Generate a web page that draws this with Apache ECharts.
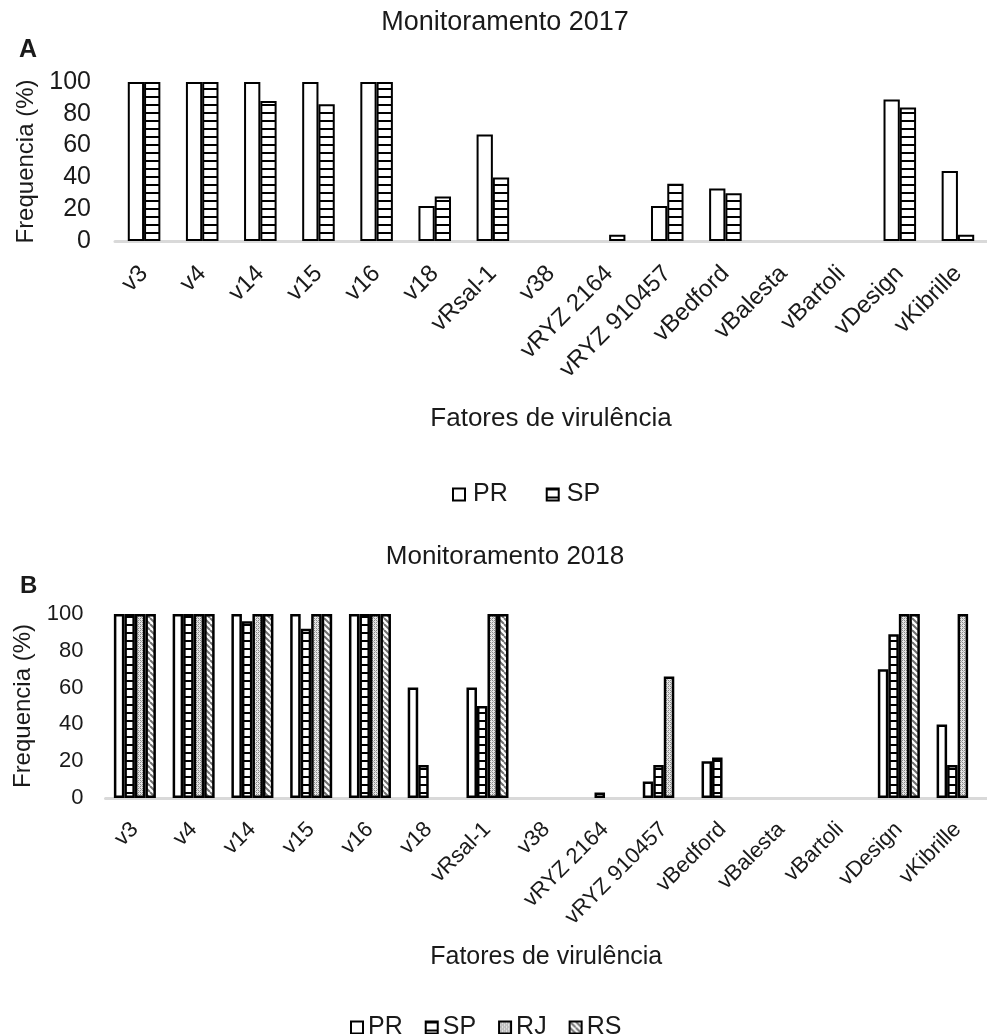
<!DOCTYPE html>
<html>
<head>
<meta charset="utf-8">
<script src="https://cdn.jsdelivr.net/npm/echarts@6/dist/echarts.min.js"></script>
<style>
html,body{margin:0;padding:0;background:#fff;}
#chart{width:987px;height:1034px;}
</style>
</head>
<body>
<div id="chart"></div>
<script>
// ---- data ----
const categories = ['v3','v4','v14','v15','v16','v18','vRsal-1','v38','vRYZ 2164','vRYZ 910457','vBedford','vBalesta','vBartoli','vDesign','vKibrille'];
const yTicks = [0,20,40,60,80,100];
// Monitoramento 2017
const pr2017 = [100,100,100,100,100,22,67,0,0,22,33,0,0,89,44];
const sp2017 = [100,100,88,86,100,28,40,0,4,36,30,0,0,84,4];
// Monitoramento 2018
const pr2018 = [100,100,100,100,100,60,60,0,0,9,20,0,0,70,40];
const sp2018 = [100,100,96,92,100,18,50,0,3,18,22,0,0,89,18];
const rj2018 = [100,100,100,100,100,0,100,0,0,66,0,0,0,100,100];
const rs2018 = [100,100,100,100,100,0,100,0,0,0,0,0,0,100,0];

// ---- patterns ----
function makeCanvas(w,h,draw){const c=document.createElement('canvas');c.width=w;c.height=h;const ctx=c.getContext('2d');draw(ctx);return c;}
const patHoriz = makeCanvas(8,8,ctx=>{ctx.fillStyle='#fff';ctx.fillRect(0,0,8,8);ctx.fillStyle='#000';ctx.fillRect(0,0,8,2);});
const patDots = makeCanvas(4,4,ctx=>{ctx.fillStyle='#e6e6e6';ctx.fillRect(0,0,4,4);ctx.fillStyle='#8a8a8a';ctx.fillRect(0,0,1,1);ctx.fillRect(2,2,1,1);ctx.fillRect(2,0,1,1);ctx.fillRect(0,2,1,1);ctx.fillStyle='#b0b0b0';ctx.fillRect(1,1,1,1);ctx.fillRect(3,3,1,1);});
const patDiag = makeCanvas(6,6,ctx=>{ctx.fillStyle='#fff';ctx.fillRect(0,0,6,6);ctx.strokeStyle='#707070';ctx.lineWidth=2;ctx.beginPath();for(let k=-6;k<=12;k+=6){ctx.moveTo(k,0);ctx.lineTo(k+6,6);}ctx.stroke();});
const fillPR = '#ffffff';
const fillSP = {image: patHoriz, repeat: 'repeat'};
const fillRJ = {image: patDots, repeat: 'repeat'};
const fillRS = {image: patDiag, repeat: 'repeat'};

const txt = '#1a1a1a';
const font = 'Liberation Sans, Arial, sans-serif';

function xAxisCfg(gi, fs, gap, margin, nameFs){
  return {type:'category', gridIndex:gi, data:categories,
    axisLine:{lineStyle:{color:'#d9d9d9', width:3}}, axisTick:{show:false},
    axisLabel:{interval:0, rotate:45, fontSize:fs, color:txt, fontFamily:font, margin:margin},
    name:'Fatores de virulência', nameLocation:'middle', nameGap:gap,
    nameTextStyle:{fontSize:nameFs, color:txt, fontFamily:font}};
}
function yAxisCfg(gi, fs, gap, margin, nameFs){
  return {type:'value', gridIndex:gi, min:0, max:100, interval:20,
    splitLine:{show:false}, axisLine:{show:false}, axisTick:{show:false},
    axisLabel:{fontSize:fs, color:txt, fontFamily:font, margin:margin,
      formatter: v => yTicks.indexOf(v) >= 0 ? String(v) : ''},
    name:'Frequencia (%)', nameLocation:'middle', nameGap:gap,
    nameTextStyle:{fontSize:nameFs, color:txt, fontFamily:font}};
}
// zero values draw no bar
function bar(name, data, fill, gi, bw){
  return {type:'bar', name:name, data:data.map(v => v === 0 ? '-' : v), xAxisIndex:gi, yAxisIndex:gi,
    barGap:'0%', barCategoryGap: gi===0 ? '44%' : '28.5%',
    itemStyle:{color:fill, borderColor:'#000', borderWidth:bw},
    emphasis:{disabled:true}, animation:false};
}

const chart = echarts.init(document.getElementById('chart'), null, {renderer:'canvas'});
chart.setOption({
  backgroundColor:'#fff',
  animation:false,
  title:[
    {text:'Monitoramento 2017', left:500, top:4, textAlign:'center', textStyle:{fontSize:27, fontWeight:'normal', color:txt, fontFamily:font}},
    {text:'Monitoramento 2018', left:500, top:539, textAlign:'center', textStyle:{fontSize:26, fontWeight:'normal', color:txt, fontFamily:font}},
    {text:'A', left:14, top:33, textStyle:{fontSize:25, fontWeight:'bold', color:txt, fontFamily:font}},
    {text:'B', left:15, top:569, textStyle:{fontSize:24, fontWeight:'bold', color:txt, fontFamily:font}}
  ],
  legend:[
    {data:['PR','SP'], left:447, top:477, icon:'rect', itemWidth:12, itemHeight:12, itemGap:38,
     textStyle:{fontSize:25, color:txt, fontFamily:font, padding:[0,0,0,3]}, selectedMode:false},
    {data:['PR','SP','RJ','RS'], left:345, top:1010, icon:'rect', itemWidth:12, itemHeight:12, itemGap:22,
     textStyle:{fontSize:25, color:txt, fontFamily:font}, selectedMode:false}
  ],
  grid:[
    {left:115, width:882, top:82, height:159},
    {left:105.5, width:894, top:614, height:184}
  ],
  xAxis:[xAxisCfg(0,24,165,29,26), xAxisCfg(1,22,147,28,25)],
  yAxis:[yAxisCfg(0,25,76,24,24), yAxisCfg(1,22,70,22,24)],
  series:[
    bar('PR', pr2017, fillPR, 0, 2),
    bar('SP', sp2017, fillSP, 0, 2),
    bar('PR', pr2018, fillPR, 1, 2.5),
    bar('SP', sp2018, fillSP, 1, 2.5),
    bar('RJ', rj2018, fillRJ, 1, 2.5),
    bar('RS', rs2018, fillRS, 1, 2.5)
  ]
});
</script>
</body>
</html>
